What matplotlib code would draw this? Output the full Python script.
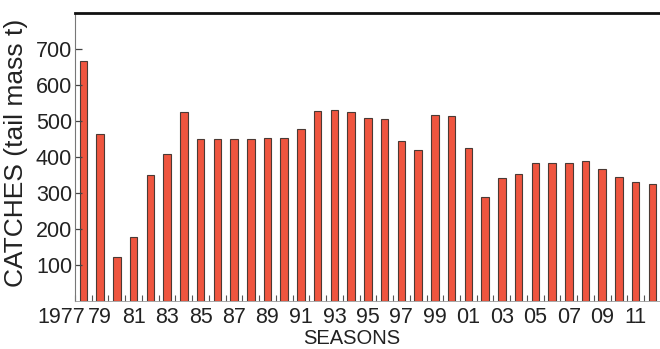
import numpy as np
import matplotlib
matplotlib.use('Agg')
import matplotlib.pyplot as plt

# catches per season (tail mass t)
seasons = list(range(1978, 2013))
catches = [667, 463, 123, 177, 350, 408, 524, 451, 451, 451, 451, 452, 452,
           477, 528, 530, 526, 508, 505, 444, 419, 517, 515, 424, 290, 343,
           353, 382, 382, 382, 389, 367, 345, 330, 324]
label_years = list(range(1979, 2012, 2))
label_text = [f'{y % 100:02d}' for y in label_years]
y_ticks = [100, 200, 300, 400, 500, 600, 700]

FONT = 'Liberation Sans'
TXT = '#222222'

fig = plt.figure(figsize=(6.6, 3.49), dpi=100)
ax = fig.add_axes([75/660, 1-301/349, 1-75/660, (301-13)/349])

ax.bar(seasons, catches, width=0.45, color='#EF553F', edgecolor='#4a3a35', linewidth=0.8)

ax.set_xlim(seasons[0]-0.5, seasons[-1]+0.45)
ax.set_ylim(0, 800)

ax.set_xticks(label_years)
ax.set_xticklabels(label_text, fontsize=15.5, family=FONT, color=TXT)
ax.set_xticks(np.arange(seasons[0]-0.5, seasons[-1]+0.5, 1.0), minor=True)
ax.tick_params(axis='x', which='major', length=0, pad=4)
ax.tick_params(axis='x', which='minor', direction='in', length=4, color='#555555', width=0.8)

ax.set_yticks(y_ticks)
ax.set_yticklabels([str(v) for v in y_ticks], fontsize=15.5, family=FONT, color=TXT)
ax.tick_params(axis='y', direction='in', length=5, pad=2, color='#444444', width=0.9)

# first label sits left of the plotting area
ax.annotate('1977', xy=(seasons[0]-1.35, 0), xycoords=('data', 'axes fraction'),
            xytext=(0, -4), textcoords='offset points', ha='center', va='top',
            fontsize=15.5, family=FONT, color=TXT, annotation_clip=False)

ax.spines['right'].set_visible(False)
ax.spines['top'].set_linewidth(2.0)
ax.spines['top'].set_color('#111111')
ax.spines['left'].set_linewidth(0.8)
ax.spines['left'].set_color('#777777')
ax.spines['bottom'].set_linewidth(0.6)
ax.spines['bottom'].set_color('#999999')

fig.text(16/660, 1-153/349, 'CATCHES (tail mass t)', rotation=90, ha='center', va='center',
         fontsize=19, family=FONT, color=TXT)
fig.text(352/660, 0.5/349, 'SEASONS', ha='center', va='bottom',
         fontsize=14.5, family=FONT, color=TXT)

fig.savefig('out.png', dpi=100)
